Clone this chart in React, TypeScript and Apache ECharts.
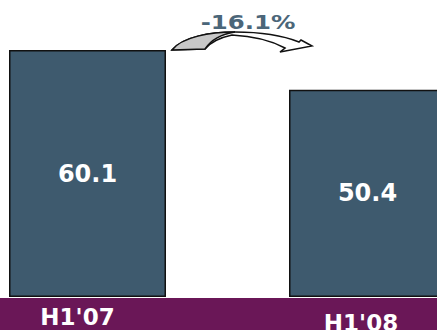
import React, { useEffect, useRef } from "react";
import * as echarts from "echarts";

const categories = ["H1'07", "H1'08"];
const values = [60.1, 50.4];
const changeLabel = "-16.1%";

const backPath =
  "M172,50 C182,37 210,32 235,32 C262,32 284,36 299,42 L301,40 L312,46 L280,52 L285,48 C272,41 252,36 232,35 C218,38 210,43 205,49 Z";
const frontPath = "M172,50 C182,37 210,32 235,32 C222,34 211,40 205,49 Z";

echarts.graphic.registerShape("arrowBack", (echarts.graphic as any).extendPath(backPath, {}));
echarts.graphic.registerShape("arrowFront", (echarts.graphic as any).extendPath(frontPath, {}));

export default function App() {
  const ref = useRef<HTMLDivElement>(null);
  useEffect(() => {
    if (!ref.current) return;
    const chart = echarts.init(ref.current, undefined, { renderer: "svg" });
    chart.setOption({
      animation: false,
      grid: {
        left: -52.5,
        width: 560,
        top: 50,
        bottom: 33,
        containLabel: false,
        outerBoundsMode: "none",
      },
      xAxis: {
        type: "category",
        data: categories,
        z: 5,
        axisLine: { show: false },
        axisTick: { show: false },
        axisLabel: {
          margin: 8,
          formatter: (v: string, i: number) => (i === 0 ? `{a|${v}}` : `{b|${v}}`),
          rich: {
            a: {
              color: "#ffffff",
              fontSize: 23,
              fontWeight: "bold",
              fontFamily: "DejaVu Sans",
              padding: [0, 20, 0, 0],
            },
            b: {
              color: "#ffffff",
              fontSize: 23,
              fontWeight: "bold",
              fontFamily: "DejaVu Sans",
              padding: [6, 13, 0, 0],
            },
          },
        },
      },
      yAxis: { type: "value", min: 0, max: 60.1, show: false, splitLine: { show: false } },
      series: [
        {
          type: "bar",
          data: values,
          barWidth: 157,
          itemStyle: { color: "#3E5A6E", borderColor: "#111111", borderWidth: 1.5 },
          label: {
            show: true,
            position: "inside",
            color: "#ffffff",
            fontSize: 24,
            fontWeight: "bold",
            fontFamily: "DejaVu Sans",
            formatter: (p: any) => Number(p.value).toFixed(1),
          },
        },
      ],
      graphic: [
        {
          type: "rect",
          z: 1,
          shape: { x: 0, y: 298, width: 437, height: 32 },
          style: { fill: "#6A1757" },
        },
        {
          type: "arrowBack",
          z: 3,
          x: 0,
          y: 0,
          style: { fill: "#ffffff", stroke: "#111111", lineWidth: 1.5 },
        },
        {
          type: "arrowFront",
          z: 4,
          x: 0,
          y: 0,
          style: { fill: "#C8C8C8", stroke: "#111111", lineWidth: 1.5 },
        },
        {
          type: "text",
          z: 5,
          x: 248,
          y: 22,
          scaleX: 1.22,
          style: {
            text: changeLabel,
            fill: "#4B6679",
            fontSize: 20,
            fontWeight: "bold",
            fontFamily: "DejaVu Sans",
            align: "center",
            verticalAlign: "middle",
          },
        },
      ],
    });
    return () => chart.dispose();
  }, []);
  return <div ref={ref} style={{ width: 437, height: 330, position: "absolute", left: 0, top: 0 }} />;
}
